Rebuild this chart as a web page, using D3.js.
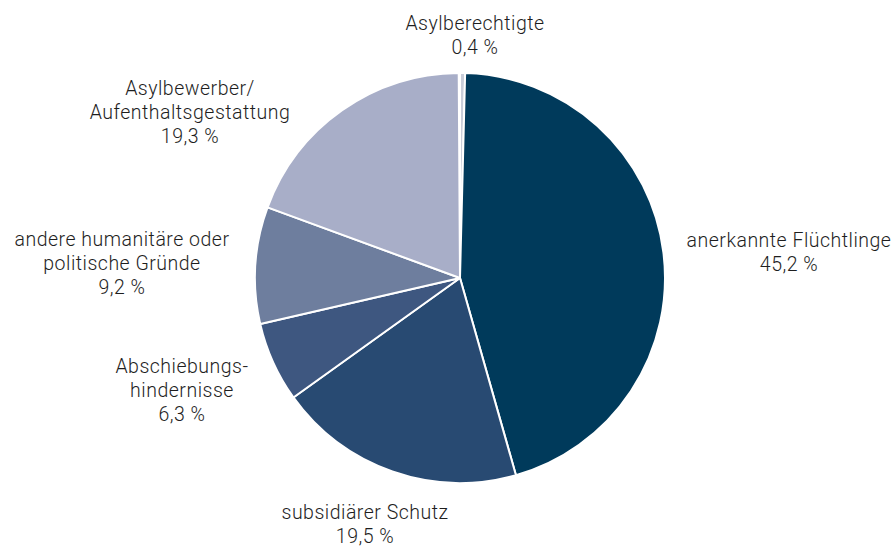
<!DOCTYPE html>
<html>
<head>
<meta charset="utf-8">
<script src="https://cdn.jsdelivr.net/npm/d3@7"></script>
<style>
  body { margin: 0; background: #fff; }
  text { font-family: Roboto, "Liberation Sans", Arial, sans-serif; font-weight: 300; font-size: 19.5px; letter-spacing: 0.5px; fill: #1e1e1e; }
</style>
</head>
<body>
<svg id="pie" width="892" height="548"></svg>
<script>
// order runs clockwise from 12 o'clock
const categories = [
  "Asylberechtigte",
  "anerkannte Flüchtlinge",
  "subsidiärer Schutz",
  "Abschiebungshindernisse",
  "andere humanitäre oder politische Gründe",
  "Asylbewerber/Aufenthaltsgestattung"
];
const values = [0.4, 45.2, 19.5, 6.3, 9.2, 19.3];
const colors = ["#c9cdd9", "#003a5b", "#284a72", "#3e5780", "#6e7e9e", "#a8aec8"];
const labelLines = [
  ["Asylberechtigte"],
  ["anerkannte Flüchtlinge"],
  ["subsidiärer Schutz"],
  ["Abschiebungs-", "hindernisse"],
  ["andere humanitäre oder", "politische Gründe"],
  ["Asylbewerber/", "Aufenthaltsgestattung"]
];
// label anchor points (center of text block, first baseline)
const labelPos = [[475, 30], [789, 247], [365, 519], [182, 373], [122, 246], [190, 95]];

const svg = d3.select("#pie");
const cx = 460, cy = 278, radius = 205;
const g = svg.append("g").attr("transform", `translate(${cx}, ${cy})`);

const data = categories.map((c, i) => ({ key: c, value: values[i], i }));
const total = d3.sum(values);
const pie = d3.pie().sort(null).value(d => d.value).endAngle(2 * Math.PI * total / 100);
const arc = d3.arc().innerRadius(0).outerRadius(radius);

g.selectAll("path")
  .data(pie(data))
  .enter()
  .append("path")
  .attr("d", arc)
  .attr("fill", d => colors[d.data.i])
  .attr("stroke", "#fff")
  .attr("stroke-width", 2)
  .attr("stroke-linejoin", "round");

const fmt = v => d3.format(".1f")(v).replace(".", ",") + " %";

const labels = svg.selectAll("text.label")
  .data(data)
  .enter()
  .append("text")
  .attr("class", "label")
  .attr("text-anchor", "middle")
  .attr("x", d => labelPos[d.i][0])
  .attr("y", d => labelPos[d.i][1]);

labels.each(function(d) {
  const t = d3.select(this);
  const lines = labelLines[d.i].concat([fmt(d.value)]);
  lines.forEach((line, k) => {
    t.append("tspan")
      .attr("x", labelPos[d.i][0])
      .attr("dy", k === 0 ? 0 : 24)
      .text(line);
  });
});
</script>
</body>
</html>
